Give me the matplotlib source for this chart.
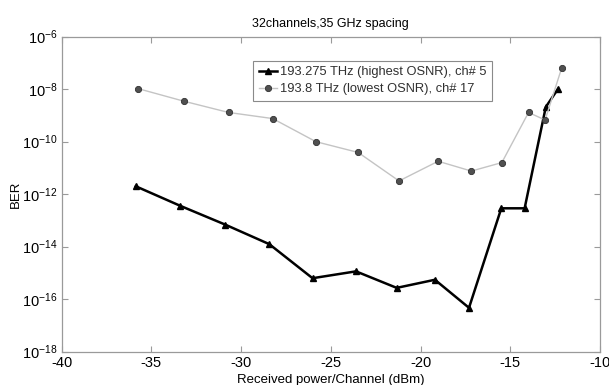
import numpy as np
import matplotlib
matplotlib.use("Agg")
import matplotlib.pyplot as plt

plt.rcParams['font.family'] = ['Liberation Sans', 'DejaVu Sans']

# channel 5 (highest OSNR)
p_hi = [-35.87, -33.39, -30.9, -28.43, -26.02, -23.6, -21.33, -19.2, -17.3, -15.5, -14.2, -13.02, -12.35]
ber_hi = [2e-12, 3.6e-13, 7e-14, 1.25e-14, 6.3e-16, 1.15e-15, 2.7e-16, 5.5e-16, 4.7e-17, 2.9e-13, 2.9e-13, 2.1e-9, 1e-8]

# channel 17 (lowest OSNR)
p_lo = [-35.74, -33.2, -30.7, -28.24, -25.83, -23.48, -21.2, -19.02, -17.17, -15.47, -13.98, -13.06, -12.13]
ber_lo = [1.05e-8, 3.5e-9, 1.3e-9, 7.6e-10, 1e-10, 3.9e-11, 3.2e-12, 1.8e-11, 7.6e-12, 1.6e-11, 1.3e-9, 6.7e-10, 6.6e-8]

labels = ["193.275 THz (highest OSNR), ch# 5", "193.8 THz (lowest OSNR), ch# 17"]
xticks = [-40, -35, -30, -25, -20, -15, -10]
yexp = [-18, -16, -14, -12, -10, -8, -6]

fig = plt.figure(figsize=(6.09, 3.85), dpi=100)
ax = fig.add_axes([0.1013, 0.0865, 0.8839, 0.8182])

ax.semilogy(p_hi, ber_hi, '-^', color='black', lw=1.8, ms=4.5,
            mfc='black', mec='black', label=labels[0])
ax.semilogy(p_lo, ber_lo, '-o', color='#c4c4c4', lw=1.0, ms=4.5,
            mfc='#505050', mec='#303030', mew=0.6, label=labels[1])

ax.set_xlim(-40, -10)
ax.set_ylim(1e-18, 1e-6)
ax.set_xticks(xticks)
ax.set_xticklabels([str(v) for v in xticks])
ax.set_yticks([10.0**e for e in yexp])
ax.set_yticklabels([r'$\mathregular{10^{%d}}$' % e for e in yexp])
ax.minorticks_off()

for s in ax.spines.values():
    s.set_color('#9a9a9a')
    s.set_linewidth(0.9)
ax.tick_params(direction='in', top=True, right=True, length=4,
               color='#9a9a9a', labelsize=10.5)
ax.tick_params(axis='x', pad=3)
ax.tick_params(axis='y', pad=3)

ax.set_title('32channels,35 GHz spacing', fontsize=9, pad=7)
ax.set_xlabel('Received power/Channel (dBm)', fontsize=9.5)
ax.xaxis.set_label_coords(0.5, -0.07)
ax.set_ylabel('BER', fontsize=9.5, labelpad=0)

leg = ax.legend(loc='upper left', bbox_to_anchor=(0.356, 0.924), borderaxespad=0,
                fancybox=False, edgecolor='#8a8a8a', fontsize=9.3, handlelength=1.4,
                handletextpad=0.2, borderpad=0.45, labelspacing=0.35, framealpha=1)
leg.get_frame().set_linewidth(0.8)
for t in leg.get_texts():
    t.set_color('#303030')

fig.savefig('out.png', dpi=100)
